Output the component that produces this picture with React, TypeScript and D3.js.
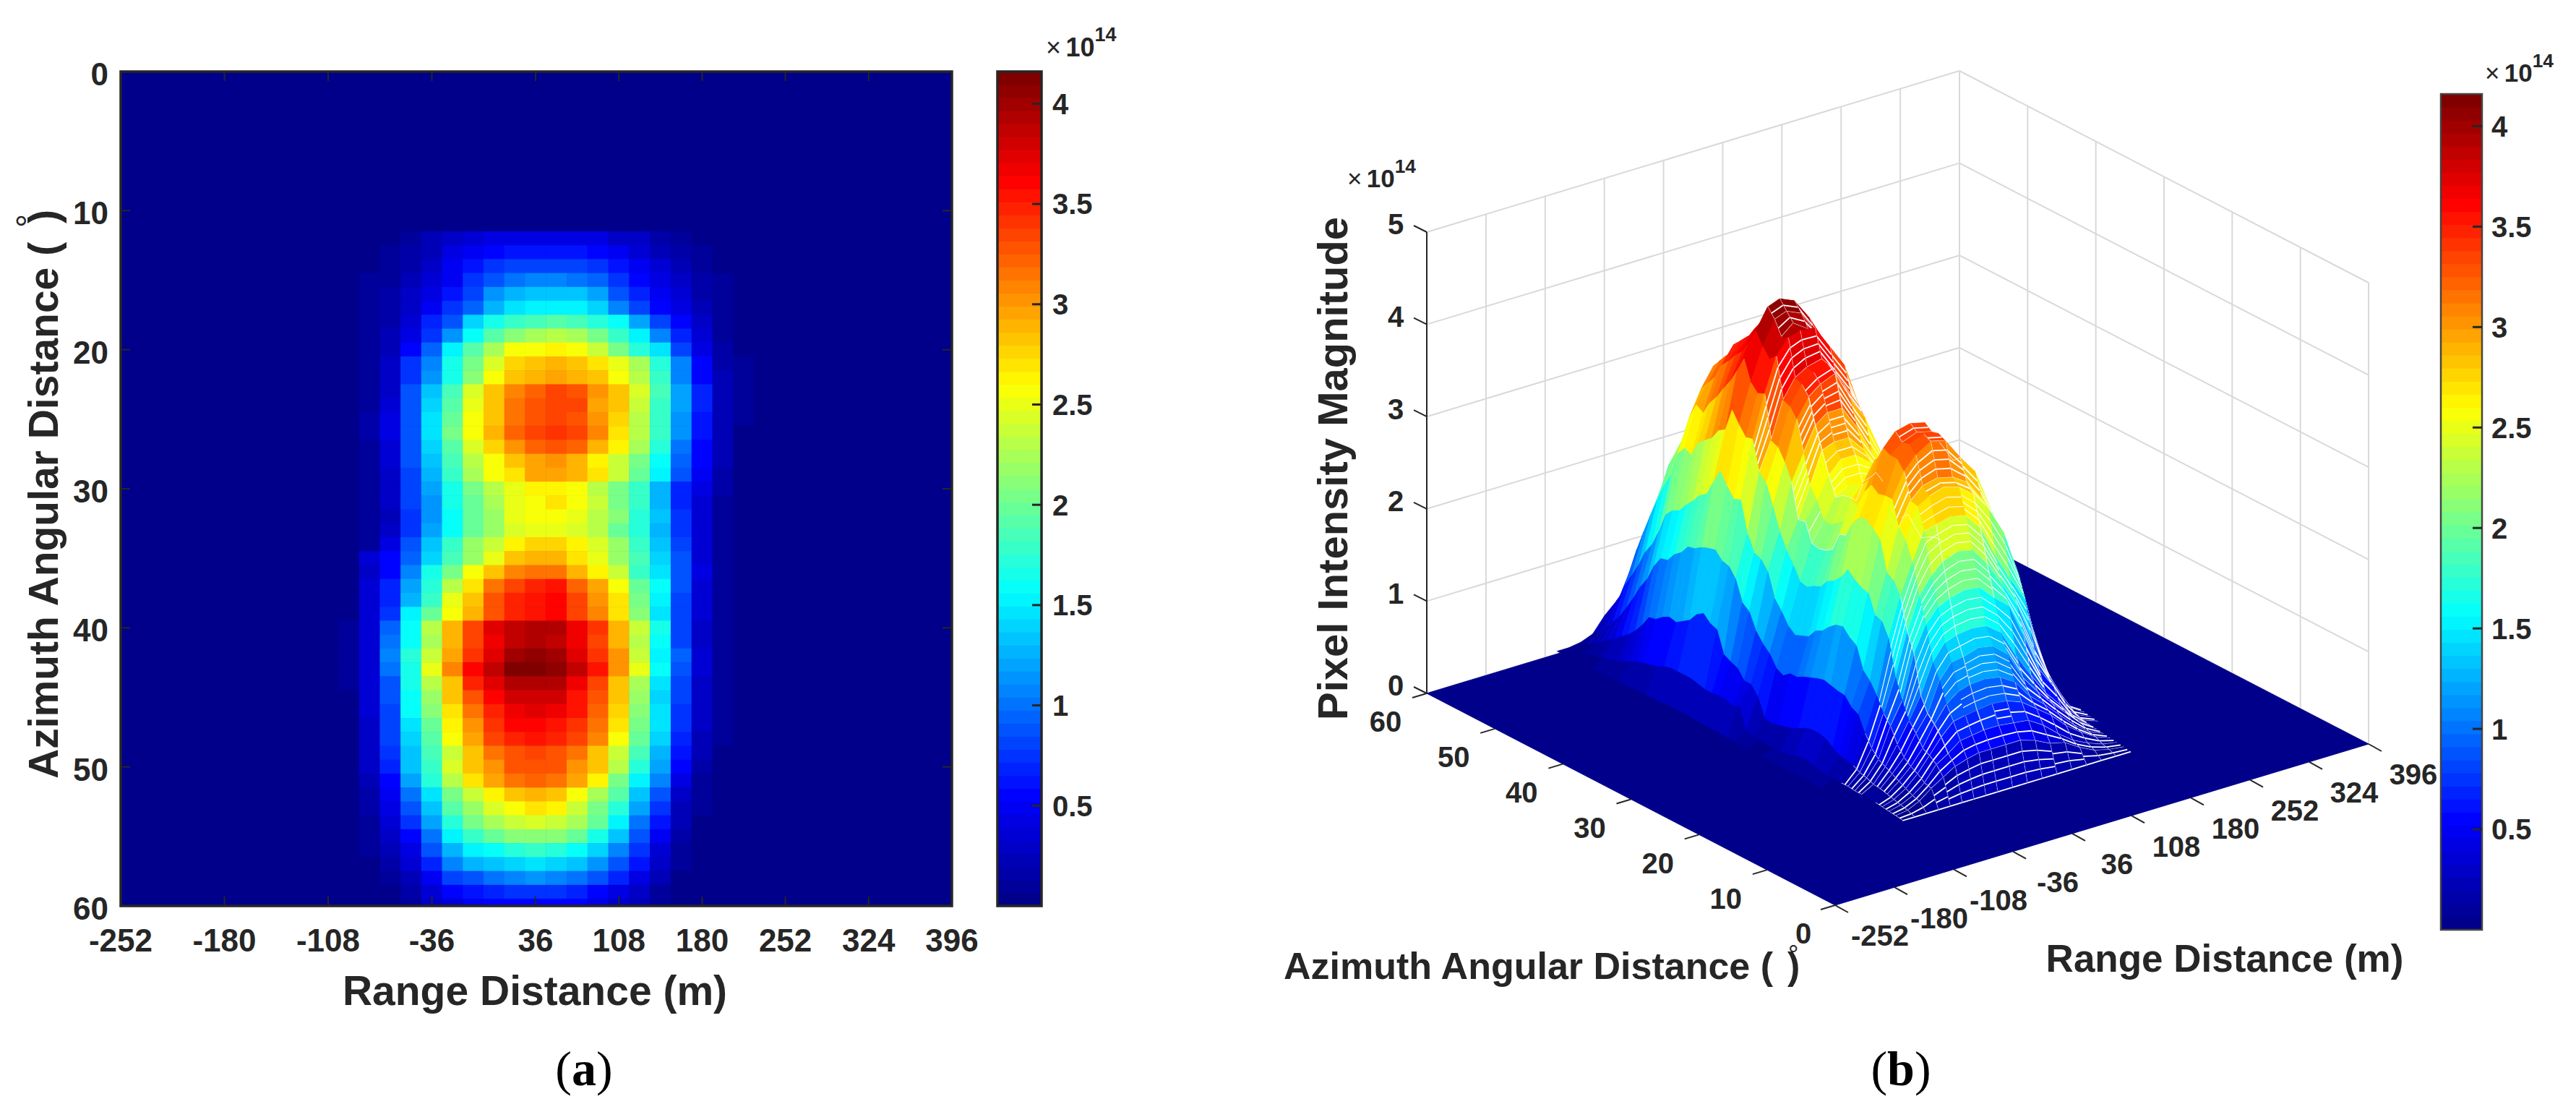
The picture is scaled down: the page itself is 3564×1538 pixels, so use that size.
import React from 'react';
import * as d3 from 'd3';

const WIDTH = 3564;
const HEIGHT = 1538;
const INK = '#262626';
const SANS = '"Liberation Sans", Arial, sans-serif';
const SERIF = '"Liberation Serif", "Times New Roman", serif';

// tick labels
const rangeTicks = [-252, -180, -108, -36, 36, 108, 180, 252, 324, 396];
const azimuthTicks = [0, 10, 20, 30, 40, 50, 60];
const magnitudeTicks = [0, 1, 2, 3, 4, 5];
const colorbarTicks = [0.5, 1, 1.5, 2, 2.5, 3, 3.5, 4];

// centre of each image column that is above the background (m)
const rangeColumns = [
  -93.6, -79.2, -64.8, -50.4, -36, -21.6, -7.2, 7.2, 21.6, 36, 54, 72, 90, 108, 126, 144, 162, 180,
  198, 216, 234,
];
// azimuth of each row (degrees)
const azimuthRows = d3.range(11, 61);
const intensity = [
  [3, 3, 3, 3, 3, 3, 3, 3, 3, 3, 3, 3, 3, 3, 3, 3, 3, 3, 3, 3, 3],
  [3, 4, 6, 12, 22, 30, 38, 42, 45, 45, 45, 45, 40, 32, 28, 18, 10, 6, 4, 3, 3],
  [3, 5, 8, 14, 24, 40, 48, 58, 60, 62, 62, 60, 58, 48, 34, 22, 14, 8, 5, 4, 3],
  [3, 6, 10, 18, 30, 46, 62, 75, 78, 80, 82, 80, 74, 62, 50, 34, 22, 12, 6, 4, 3],
  [3, 7, 12, 22, 34, 50, 72, 90, 100, 104, 105, 102, 92, 72, 58, 42, 26, 14, 7, 4, 3],
  [3, 7, 14, 26, 40, 62, 80, 112, 128, 130, 135, 132, 118, 88, 68, 50, 34, 18, 8, 4, 3],
  [3, 8, 15, 30, 50, 72, 96, 128, 145, 150, 152, 150, 138, 108, 82, 58, 40, 20, 9, 4, 3],
  [3, 8, 18, 34, 66, 90, 138, 165, 180, 186, 190, 188, 172, 158, 120, 80, 56, 26, 10, 4, 3],
  [3, 9, 20, 42, 76, 112, 158, 192, 210, 222, 228, 225, 205, 178, 150, 108, 68, 38, 12, 5, 3],
  [3, 9, 24, 55, 92, 150, 192, 225, 255, 258, 262, 258, 240, 205, 175, 148, 82, 42, 16, 6, 3],
  [3, 10, 26, 72, 104, 165, 205, 245, 278, 285, 290, 285, 272, 252, 222, 172, 106, 52, 18, 8, 3],
  [4, 10, 28, 76, 112, 168, 210, 255, 280, 292, 296, 292, 282, 258, 228, 178, 108, 58, 20, 8, 3],
  [4, 10, 32, 85, 135, 188, 242, 282, 308, 322, 332, 328, 305, 285, 242, 185, 120, 68, 22, 7, 3],
  [4, 12, 38, 86, 140, 190, 250, 282, 318, 330, 336, 332, 298, 282, 238, 180, 120, 66, 24, 8, 3],
  [4, 14, 40, 88, 148, 195, 256, 280, 318, 328, 334, 330, 304, 275, 232, 178, 116, 64, 25, 7, 3],
  [4, 14, 40, 90, 146, 202, 255, 286, 322, 336, 340, 336, 310, 272, 230, 178, 112, 62, 24, 6, 3],
  [4, 12, 38, 88, 140, 190, 245, 275, 305, 322, 325, 320, 290, 262, 225, 170, 102, 58, 22, 6, 3],
  [4, 10, 34, 85, 132, 182, 228, 256, 280, 298, 300, 292, 262, 235, 205, 158, 95, 52, 20, 6, 3],
  [4, 9, 30, 82, 128, 178, 225, 258, 272, 294, 296, 290, 270, 240, 198, 155, 90, 48, 16, 6, 3],
  [4, 9, 28, 78, 118, 168, 205, 232, 250, 262, 262, 255, 230, 205, 178, 125, 68, 42, 14, 5, 3],
  [4, 8, 26, 78, 115, 165, 200, 225, 250, 258, 268, 258, 235, 205, 178, 125, 70, 38, 12, 5, 3],
  [4, 8, 24, 72, 112, 160, 198, 220, 248, 256, 258, 252, 232, 208, 175, 130, 75, 36, 12, 5, 3],
  [4, 10, 26, 76, 118, 162, 200, 220, 242, 250, 250, 246, 230, 200, 170, 128, 72, 36, 10, 4, 3],
  [4, 12, 45, 88, 130, 176, 220, 238, 262, 275, 275, 262, 245, 215, 178, 130, 78, 34, 10, 4, 3],
  [5, 35, 55, 95, 140, 188, 218, 250, 285, 290, 290, 272, 250, 220, 188, 140, 85, 38, 10, 4, 3],
  [6, 32, 55, 105, 165, 205, 255, 282, 308, 318, 318, 292, 260, 235, 180, 145, 85, 40, 10, 4, 3],
  [6, 35, 65, 122, 175, 228, 272, 315, 335, 345, 352, 320, 295, 255, 200, 158, 88, 38, 10, 4, 3],
  [6, 35, 68, 128, 178, 250, 285, 325, 345, 354, 358, 332, 305, 268, 205, 150, 82, 36, 10, 4, 3],
  [6, 34, 72, 150, 195, 258, 288, 328, 348, 356, 360, 335, 310, 272, 210, 145, 78, 34, 10, 4, 3],
  [7, 34, 95, 160, 228, 290, 335, 372, 388, 392, 390, 365, 340, 290, 238, 168, 82, 28, 10, 4, 3],
  [7, 36, 98, 162, 225, 288, 332, 365, 385, 396, 385, 368, 335, 292, 232, 160, 82, 30, 10, 4, 3],
  [7, 38, 105, 170, 235, 298, 340, 375, 400, 405, 398, 372, 342, 300, 240, 155, 92, 34, 10, 4, 3],
  [7, 38, 100, 168, 248, 310, 362, 388, 410, 415, 408, 385, 355, 305, 248, 160, 88, 34, 10, 4, 3],
  [7, 38, 90, 165, 232, 285, 345, 372, 390, 396, 390, 365, 335, 285, 225, 145, 80, 32, 10, 4, 3],
  [6, 38, 85, 160, 215, 280, 330, 358, 378, 382, 378, 352, 325, 280, 218, 140, 78, 30, 8, 4, 3],
  [6, 36, 80, 158, 210, 268, 318, 350, 365, 372, 368, 352, 322, 275, 210, 148, 75, 28, 8, 4, 3],
  [6, 32, 82, 148, 200, 262, 305, 340, 358, 362, 352, 342, 318, 268, 205, 145, 74, 26, 7, 4, 3],
  [6, 30, 78, 142, 192, 255, 295, 332, 350, 352, 350, 335, 308, 258, 200, 138, 70, 24, 7, 3, 3],
  [5, 28, 72, 132, 182, 238, 280, 315, 330, 335, 330, 312, 285, 235, 185, 125, 60, 20, 6, 3, 3],
  [5, 26, 70, 130, 178, 242, 285, 305, 325, 330, 328, 305, 282, 228, 172, 120, 54, 16, 5, 3, 3],
  [5, 22, 58, 118, 170, 232, 268, 295, 315, 322, 318, 295, 265, 205, 150, 105, 40, 12, 5, 3, 3],
  [4, 18, 48, 100, 148, 205, 240, 265, 285, 290, 285, 255, 225, 190, 135, 90, 32, 10, 4, 3, 3],
  [4, 15, 40, 88, 130, 190, 220, 245, 258, 268, 262, 238, 205, 172, 120, 72, 24, 8, 4, 3, 3],
  [4, 12, 34, 72, 118, 170, 205, 225, 238, 245, 238, 222, 195, 155, 100, 60, 20, 6, 3, 3, 3],
  [3, 10, 28, 58, 100, 150, 178, 195, 208, 212, 208, 198, 165, 135, 88, 48, 14, 5, 3, 3, 3],
  [3, 8, 22, 45, 85, 128, 150, 160, 172, 176, 172, 160, 138, 108, 75, 38, 10, 4, 3, 3, 3],
  [3, 5, 16, 35, 70, 105, 125, 132, 142, 148, 142, 130, 112, 90, 60, 30, 7, 3, 3, 3, 3],
  [3, 4, 10, 25, 50, 78, 90, 100, 108, 112, 108, 98, 85, 65, 44, 20, 5, 3, 3, 3, 3],
  [3, 3, 6, 15, 34, 52, 60, 68, 72, 76, 72, 66, 56, 44, 30, 12, 4, 3, 3, 3, 3],
  [3, 3, 5, 10, 26, 38, 48, 52, 56, 58, 56, 52, 44, 32, 20, 8, 3, 3, 3, 3, 3],
];

// matlab jet, 64 flat steps
const MAX_VALUE = 416;
const jetRamp = d3
  .scaleLinear<string>()
  .domain([0, 0.125, 0.375, 0.625, 0.875, 1].map((f) => f * MAX_VALUE))
  .range(['#00008b', '#0000ff', '#00ffff', '#ffff00', '#ff0000', '#800000'])
  .interpolate(d3.interpolateRgb);
const jetColors = d3.range(64).map((i) => jetRamp((i / 63) * MAX_VALUE));
const color = d3.scaleQuantize<string>().domain([0, MAX_VALUE]).range(jetColors);

function Colorbar({ x, top, bottom, width, stroke, strokeWidth, fontSize, labelX }) {
  const y = d3.scaleLinear().domain([0, MAX_VALUE]).range([bottom, top]);
  const step = (bottom - top) / 64;
  return (
    <g>
      {jetColors.map((c, i) => (
        <rect key={i} x={x} y={bottom - (i + 1) * step - 0.5} width={width} height={step + 1} fill={c} />
      ))}
      <rect x={x} y={top} width={width} height={bottom - top} fill="none" stroke={stroke} strokeWidth={strokeWidth} />
      {colorbarTicks.map((t) => (
        <g key={t}>
          <line x1={x + width - 13} x2={x + width} y1={y(t * 100)} y2={y(t * 100)} stroke={INK} strokeWidth={3} />
          <text x={labelX} y={y(t * 100)} dy="0.36em" fontSize={fontSize} fontWeight="bold" fill={INK} fontFamily={SANS}>
            {t}
          </text>
        </g>
      ))}
    </g>
  );
}

function Exponent({ x, y, size }) {
  return (
    <text x={x} y={y} fontSize={size} fontWeight="bold" fill={INK} fontFamily={SANS}>
      <tspan fontWeight="normal" dx={0}>×</tspan>
      <tspan dx={size * 0.18}>10</tspan>
      <tspan dy={-size * 0.58} fontSize={size * 0.75}>14</tspan>
    </text>
  );
}

function Heatmap() {
  const left = 167;
  const right = 1317;
  const top = 99;
  const bottom = 1253;
  // the tick labels are not evenly spaced: five columns per tick below 36 m, four above
  const x = d3.scaleLinear().domain([-252, 36, 396]).range([left, 741, right]);
  const y = d3.scaleLinear().domain([0, 60]).range([top, bottom]);
  const half = (x(rangeColumns[1]) - x(rangeColumns[0])) / 2;

  return (
    <g>
      <rect x={left} y={top} width={right - left} height={bottom - top} fill={jetColors[0]} />
      {intensity.map((row, i) =>
        row.map((v, j) => {
          const y0 = y(azimuthRows[i] - 0.5);
          const y1 = Math.min(y(azimuthRows[i] + 0.5), bottom);
          return (
            <rect
              key={i + '-' + j}
              x={x(rangeColumns[j]) - half - 0.3}
              y={y0 - 0.3}
              width={half * 2 + 0.6}
              height={y1 - y0 + 0.6}
              fill={color(v)}
            />
          );
        })
      )}
      <rect x={left} y={top} width={right - left} height={bottom - top} fill="none" stroke={INK} strokeWidth={3.5} />
      {rangeTicks.slice(1, -1).map((t) => (
        <g key={t} stroke={INK} strokeWidth={2}>
          <line x1={x(t)} x2={x(t)} y1={top} y2={top + 13} />
          <line x1={x(t)} x2={x(t)} y1={bottom} y2={bottom - 13} />
        </g>
      ))}
      {azimuthTicks.slice(1, -1).map((t) => (
        <g key={t} stroke={INK} strokeWidth={2}>
          <line y1={y(t)} y2={y(t)} x1={left} x2={left + 13} />
          <line y1={y(t)} y2={y(t)} x1={right} x2={right - 13} />
        </g>
      ))}
      <g fontSize={44} fontWeight="bold" fill={INK} fontFamily={SANS}>
        {rangeTicks.map((t) => (
          <text key={t} x={x(t)} y={1316} textAnchor="middle">
            {t}
          </text>
        ))}
        {azimuthTicks.map((t) => (
          <text key={t} x={150} y={y(t) + 3} dy="0.36em" textAnchor="end">
            {t}
          </text>
        ))}
      </g>
      <text x={740} y={1390} fontSize={57} fontWeight="bold" fill={INK} fontFamily={SANS} textAnchor="middle">
        Range Distance (m)
      </text>
      <g transform="translate(80,1077) rotate(-90)" fontWeight="bold" fill={INK} fontFamily={SANS}>
        <text fontSize={57}>
          Azimuth Angular Distance (<tspan dx={26}>)</tspan>
        </text>
        <text x={762} y={-24} fontSize={48} fontWeight="normal">°</text>
      </g>
      <Colorbar x={1380} top={99} bottom={1253} width={61} stroke={INK} strokeWidth={3.5} fontSize={40} labelX={1456} />
      <Exponent x={1447} y={78} size={36} />
    </g>
  );
}

// corners of the 3-d box on the page
const LEFT_CORNER = { x: 1974, y: 959 };
const BACK_CORNER = { x: 2711, y: 736 };
const RIGHT_CORNER = { x: 3277, y: 1029 };
const FRONT_CORNER = { x: 2539, y: 1252 };

function Surface() {
  const u = d3.scaleLinear().domain([-252, 396]).range([0, 1]);
  const v = d3.scaleLinear().domain([0, 60]).range([0, 1]);
  const zPx = d3.scaleLinear().domain([0, 5]).range([0, 638]);
  const alongRange = { x: RIGHT_CORNER.x - FRONT_CORNER.x, y: RIGHT_CORNER.y - FRONT_CORNER.y };
  const alongAzimuth = { x: LEFT_CORNER.x - FRONT_CORNER.x, y: LEFT_CORNER.y - FRONT_CORNER.y };
  const project = (r: number, a: number, z: number) => [
    FRONT_CORNER.x + u(r) * alongRange.x + v(a) * alongAzimuth.x,
    FRONT_CORNER.y + u(r) * alongRange.y + v(a) * alongAzimuth.y - zPx(z),
  ];
  const line = d3.line();
  const ring = d3.line().curve(d3.curveLinearClosed);
  const tickR = 20;

  // back to front: high azimuth first, high range first
  const faces = [];
  const rows = d3.range(intensity.length - 2, -1, -1);
  const cols = d3.range(rangeColumns.length - 2, -1, -1);
  rows.forEach((i) => {
    cols.forEach((j) => {
      const a0 = azimuthRows[i];
      const a1 = azimuthRows[i + 1];
      const r0 = rangeColumns[j];
      const r1 = rangeColumns[j + 1];
      const z00 = intensity[i][j];
      const z01 = intensity[i][j + 1];
      const z10 = intensity[i + 1][j];
      const z11 = intensity[i + 1][j + 1];
      const p00 = project(r0, a0, z00 / 100);
      const p01 = project(r1, a0, z01 / 100);
      const p10 = project(r0, a1, z10 / 100);
      const p11 = project(r1, a1, z11 / 100);
      const mean = (z00 + z01 + z10 + z11) / 4;
      const slopeAz = (z10 + z11 - z00 - z01) / 2;
      const slopeR = (z01 + z11 - z00 - z10) / 2;
      // faces looking towards azimuth 0 come out of the original as an open wire mesh
      const nearEnd = a0 < 20 && slopeAz > 1;
      const open = nearEnd || (slopeAz > 1 && slopeAz > slopeR * 0.9 && mean > 8);
      const wires = [];
      if (open) {
        const n = Math.max(2, Math.min(4, Math.round(slopeAz / 8)));
        d3.range(n).forEach((t) => {
          const f = t / n;
          wires.push(
            line([
              [p00[0] + (p10[0] - p00[0]) * f, p00[1] + (p10[1] - p00[1]) * f],
              [p01[0] + (p11[0] - p01[0]) * f, p01[1] + (p11[1] - p01[1]) * f],
            ])
          );
        });
        if (mean < 90 || mean > 300) wires.push(line([p00, p10]));
      }
      faces.push({
        key: i + '-' + j,
        d: ring([p00, p01, p11, p10]),
        fill: color(mean),
        wires,
        wire: mean < 90 || mean > 280 ? 1.8 : 1.1,
      });
    });
  });

  // thin white streaks running up the slopes, along a column
  const streaks = [
    { col: 6, from: 28, to: 37 },
    { col: 8, from: 29, to: 38 },
    { col: 10, from: 30, to: 39 },
    { col: 12, from: 18, to: 27 },
    { col: 14, from: 30, to: 37 },
    { col: 6, from: 13, to: 21 },
    { col: 9, from: 13, to: 21 },
  ].map((s) =>
    line(
      d3.range(s.from, s.to).map((a) => {
        const i = azimuthRows.indexOf(a);
        return project(rangeColumns[s.col], a, intensity[i][s.col] / 100);
      })
    )
  );

  const floor = ring([LEFT_CORNER, BACK_CORNER, RIGHT_CORNER, FRONT_CORNER].map((p) => [p.x, p.y]));

  return (
    <g>
      {/* back walls */}
      <g stroke="#d9d9d9" strokeWidth={2} fill="none">
        {magnitudeTicks.map((t) => (
          <g key={t}>
            <line x1={LEFT_CORNER.x} y1={LEFT_CORNER.y - zPx(t)} x2={BACK_CORNER.x} y2={BACK_CORNER.y - zPx(t)} />
            <line x1={BACK_CORNER.x} y1={BACK_CORNER.y - zPx(t)} x2={RIGHT_CORNER.x} y2={RIGHT_CORNER.y - zPx(t)} />
          </g>
        ))}
        {rangeTicks.map((t, i) => {
          const f = i / (rangeTicks.length - 1);
          const px = LEFT_CORNER.x + f * (BACK_CORNER.x - LEFT_CORNER.x);
          const py = LEFT_CORNER.y + f * (BACK_CORNER.y - LEFT_CORNER.y);
          return <line key={t} x1={px} x2={px} y1={py} y2={py - zPx(5)} />;
        })}
        {azimuthTicks.map((t, i) => {
          const f = i / (azimuthTicks.length - 1);
          const px = BACK_CORNER.x + f * (RIGHT_CORNER.x - BACK_CORNER.x);
          const py = BACK_CORNER.y + f * (RIGHT_CORNER.y - BACK_CORNER.y);
          return <line key={t} x1={px} x2={px} y1={py} y2={py - zPx(5)} />;
        })}
      </g>
      <path d={floor} fill={jetColors[0]} stroke={jetColors[0]} />
      {faces.map((f) => (
        <g key={f.key}>
          <path d={f.d} fill={f.fill} stroke={f.fill} strokeWidth={0.8} />
          {f.wires.map((w, n) => (
            <path key={n} d={w} stroke="#fff" strokeWidth={f.wire} fill="none" />
          ))}
        </g>
      ))}
      {streaks.map((d, i) => (
        <path key={i} d={d} stroke="#fff" strokeWidth={1} strokeOpacity={0.8} fill="none" />
      ))}
      {/* z axis */}
      <line x1={LEFT_CORNER.x} x2={LEFT_CORNER.x} y1={LEFT_CORNER.y} y2={LEFT_CORNER.y - zPx(5)} stroke={INK} strokeWidth={2} />
      <g fontSize={40} fontWeight="bold" fill={INK} fontFamily={SANS}>
        {magnitudeTicks.map((t) => (
          <g key={t}>
            <line
              x1={LEFT_CORNER.x}
              y1={LEFT_CORNER.y - zPx(t)}
              x2={LEFT_CORNER.x - 18}
              y2={LEFT_CORNER.y - zPx(t) - 9}
              stroke={INK}
              strokeWidth={2}
            />
            <text x={1931} y={LEFT_CORNER.y - zPx(t) - 11} dy="0.36em" textAnchor="middle">
              {t}
            </text>
          </g>
        ))}
        {/* azimuth edge */}
        {azimuthTicks.map((t) => {
          const p = project(-252, t, 0);
          return (
            <g key={t}>
              <line x1={p[0]} y1={p[1]} x2={p[0] - tickR} y2={p[1] + 6} stroke={INK} strokeWidth={2} />
              <text x={p[0] - (t === 0 ? 44 : 57)} y={p[1] + 39} dy="0.36em" textAnchor="middle">
                {t}
              </text>
            </g>
          );
        })}
        {/* range edge */}
        {rangeTicks.map((t) => {
          const p = project(t, 0, 0);
          return (
            <g key={t}>
              <line x1={p[0]} y1={p[1]} x2={p[0] + 18} y2={p[1] + 10} stroke={INK} strokeWidth={2} />
              <text x={p[0] + 62} y={p[1] + 42} dy="0.36em" textAnchor="middle">
                {t}
              </text>
            </g>
          );
        })}
      </g>
      <g fontWeight="bold" fill={INK} fontFamily={SANS}>
        <text transform="translate(1864,996) rotate(-90)" fontSize={58}>
          Pixel Intensity Magnitude
        </text>
        <text x={1776} y={1354} fontSize={52}>
          Azimuth Angular Distance (<tspan dx={20}>)</tspan>
        </text>
        <text x={2474} y={1333} fontSize={36} fontWeight="normal">°</text>
        <text x={3078} y={1344} fontSize={53} textAnchor="middle">
          Range Distance (m)
        </text>
      </g>
      <Exponent x={1864} y={259} size={35} />
      <Colorbar x={3377} top={130} bottom={1286} width={57} stroke="#444" strokeWidth={2.5} fontSize={40} labelX={3447} />
      <Exponent x={3438} y={113} size={35} />
    </g>
  );
}

export default function App() {
  return (
    <svg
      width={WIDTH}
      height={HEIGHT}
      viewBox={`0 0 ${WIDTH} ${HEIGHT}`}
      style={{ position: 'absolute', left: 0, top: 0, display: 'block', background: '#fff' }}
    >
      <Heatmap />
      <Surface />
      <g fontFamily={SERIF} fontSize={68} fill="#000" textAnchor="middle">
        <text x={808} y={1501}>
          (<tspan fontWeight="bold">a</tspan>)
        </text>
        <text x={2630} y={1501}>
          (<tspan fontWeight="bold">b</tspan>)
        </text>
      </g>
    </svg>
  );
}
